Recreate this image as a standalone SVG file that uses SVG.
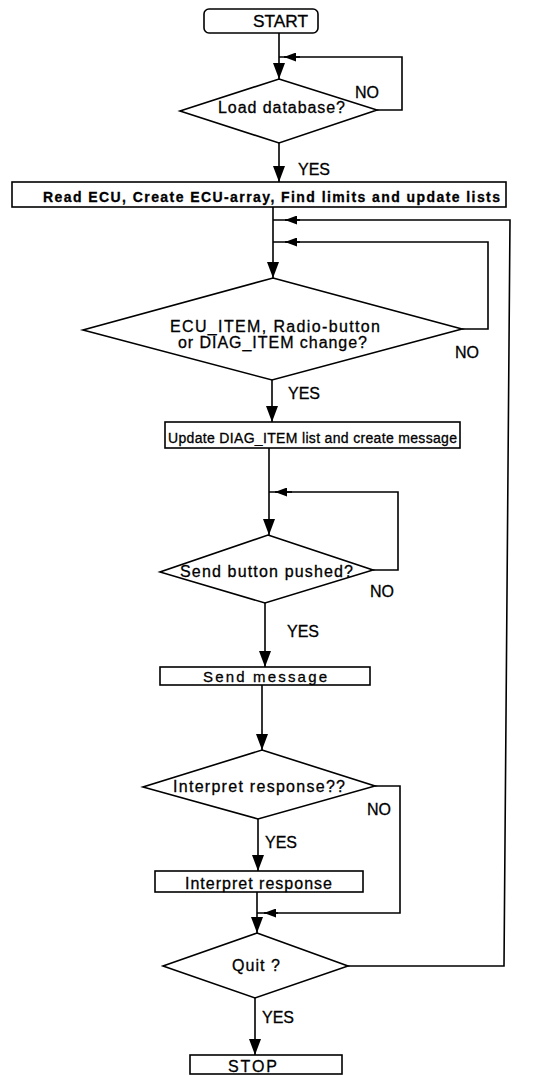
<svg xmlns="http://www.w3.org/2000/svg" width="533" height="1076" viewBox="0 0 533 1076">
  <style>
    .shape { fill: #fff; stroke: #000; stroke-width: 1.6; }
    .wire { fill: none; stroke: #000; stroke-width: 1.6; }
    .lbl { font-family: "Liberation Sans", Arial, sans-serif; font-size: 16px; fill: #000; stroke: #000; stroke-width: 0.3; }
    .box { font-size: 15px; }
    .wide { font-size: 14px; }
  </style>
  <defs>
    <marker id="arrow" viewBox="0 0 16 12" refX="16" refY="6" markerWidth="16" markerHeight="12" markerUnits="userSpaceOnUse" orient="auto">
      <path d="M0,0 L16,6 L0,12 Z" fill="#000"/>
    </marker>
    <marker id="arrowSmall" viewBox="0 0 12 9" refX="12" refY="4.5" markerWidth="12" markerHeight="9" markerUnits="userSpaceOnUse" orient="auto">
      <path d="M0,0 L12,4.5 L0,9 Z" fill="#000"/>
    </marker>
  </defs>

  <!-- connectors -->
  <g id="connectors">
    <!-- main flow -->
    <line class="wire" x1="279" y1="33" x2="279" y2="79" marker-end="url(#arrow)"/>
    <line class="wire" x1="279" y1="143" x2="279" y2="182" marker-end="url(#arrow)"/>
    <line class="wire" x1="273" y1="207" x2="273" y2="278" marker-end="url(#arrow)"/>
    <line class="wire" x1="272" y1="380" x2="272" y2="422" marker-end="url(#arrow)"/>
    <line class="wire" x1="269" y1="448" x2="269" y2="535" marker-end="url(#arrow)"/>
    <line class="wire" x1="265" y1="603" x2="265" y2="667" marker-end="url(#arrow)"/>
    <line class="wire" x1="262" y1="685" x2="262" y2="750" marker-end="url(#arrow)"/>
    <line class="wire" x1="258" y1="819" x2="258" y2="871" marker-end="url(#arrow)"/>
    <line class="wire" x1="257" y1="892" x2="257" y2="933" marker-end="url(#arrow)"/>
    <line class="wire" x1="255" y1="998" x2="255" y2="1055" marker-end="url(#arrow)"/>

    <!-- NO loops -->
    <polyline class="wire" points="377,110 402,110 402,57 279,57"/>
    <line class="wire" x1="300" y1="57" x2="284" y2="57" marker-end="url(#arrowSmall)"/>

    <polyline class="wire" points="348,966 504,966 510,220 273,220"/>
    <line class="wire" x1="300" y1="220" x2="285" y2="220" marker-end="url(#arrowSmall)"/>

    <polyline class="wire" points="462,329 488,329 488,242 273,242"/>
    <line class="wire" x1="300" y1="242" x2="285" y2="242" marker-end="url(#arrowSmall)"/>

    <polyline class="wire" points="373,570 398,570 398,492 269,492"/>
    <line class="wire" x1="292" y1="492" x2="275" y2="492" marker-end="url(#arrowSmall)"/>

    <polyline class="wire" points="375,786 400,786 400,913 257,913"/>
    <line class="wire" x1="278" y1="913" x2="264" y2="913" marker-end="url(#arrowSmall)"/>
  </g>

  <!-- nodes -->
  <g id="start">
    <rect class="shape" x="204" y="9" width="114" height="24" rx="5"/>
    <text class="lbl" x="253" y="27" textLength="55" lengthAdjust="spacingAndGlyphs">START</text>
  </g>

  <g id="load-database">
    <polygon class="shape" points="279,79 377,110 279,143 180,111"/>
    <text class="lbl" x="218" y="113" textLength="127" lengthAdjust="spacing">Load database?</text>
  </g>

  <g id="read-ecu">
    <rect class="shape" x="12" y="182" width="494" height="25"/>
    <text class="lbl wide" x="43" y="202" textLength="457" lengthAdjust="spacing" font-weight="bold">Read ECU, Create ECU-array, Find limits and update lists</text>
  </g>

  <g id="item-change">
    <polygon class="shape" points="273,278 462,329 272,380 83,330"/>
    <text class="lbl" x="170" y="332" textLength="210" lengthAdjust="spacing">ECU_ITEM, Radio-button</text>
    <text class="lbl" x="178" y="348" textLength="189" lengthAdjust="spacing">or DIAG_ITEM change?</text>
  </g>

  <g id="update-list">
    <rect class="shape" x="165" y="422" width="295" height="26"/>
    <text class="lbl wide" x="168" y="443" textLength="289" lengthAdjust="spacing">Update DIAG_ITEM list and create message</text>
  </g>

  <g id="send-pushed">
    <polygon class="shape" points="268,535 373,570 265,603 160,572"/>
    <text class="lbl" x="180" y="577" textLength="173" lengthAdjust="spacing">Send button pushed?</text>
  </g>

  <g id="send-message">
    <rect class="shape" x="160" y="667" width="210" height="18"/>
    <text class="lbl box" x="203" y="682" textLength="124" lengthAdjust="spacing">Send  message</text>
  </g>

  <g id="interpret-question">
    <polygon class="shape" points="262,750 375,786 258,819 143,787"/>
    <text class="lbl" x="173" y="792" textLength="172" lengthAdjust="spacing">Interpret response??</text>
  </g>

  <g id="interpret-response">
    <rect class="shape" x="155" y="871" width="208" height="21"/>
    <text class="lbl" x="185" y="889" textLength="147" lengthAdjust="spacing">Interpret response</text>
  </g>

  <g id="quit">
    <polygon class="shape" points="257,933 348,966 255,998 163,966"/>
    <text class="lbl" x="232" y="971" textLength="48" lengthAdjust="spacing">Quit ?</text>
  </g>

  <g id="stop">
    <rect class="shape" x="190" y="1055" width="152" height="19"/>
    <text class="lbl" x="228" y="1072" textLength="49" lengthAdjust="spacing">STOP</text>
  </g>

  <!-- branch labels -->
  <g id="branch-labels">
    <text class="lbl" x="355" y="98">NO</text>
    <text class="lbl" x="298" y="175">YES</text>
    <text class="lbl" x="455" y="358">NO</text>
    <text class="lbl" x="288" y="399">YES</text>
    <text class="lbl" x="370" y="597">NO</text>
    <text class="lbl" x="287" y="637">YES</text>
    <text class="lbl" x="367" y="815">NO</text>
    <text class="lbl" x="265" y="848">YES</text>
    <text class="lbl" x="262" y="1023">YES</text>
  </g>
</svg>
